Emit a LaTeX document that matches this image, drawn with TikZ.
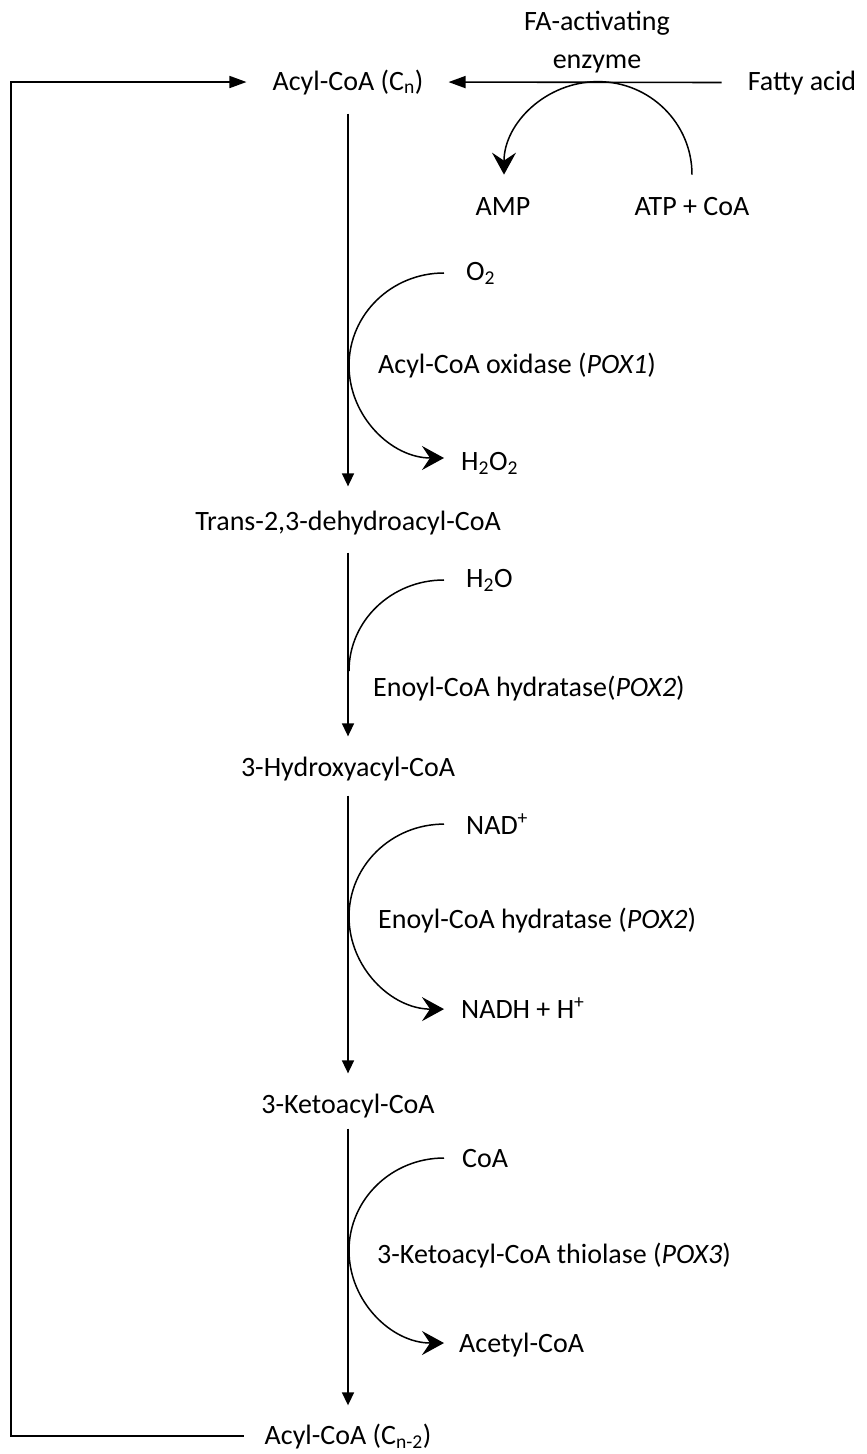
\documentclass[tikz,border=0pt]{standalone}
\usepackage{fontspec}
\setmainfont{Carlito}
\usetikzlibrary{arrows.meta,calc}
\begin{document}
\begin{tikzpicture}[x=1pt,y=1pt,
  lbl/.style={inner sep=0pt, font=\fontsize{28}{34}\selectfont},
  mainline/.style={line width=1.6pt},
  flow/.style={mainline,-{Triangle[length=13pt,width=12pt]}},
  longflow/.style={mainline,-{Triangle[length=17pt,width=12pt]}},
  arcline/.style={line width=1.5pt},
  curvearrow/.style={arcline,-{Stealth[length=22pt,width=24pt,inset=8pt]}},
  ]
\useasboundingbox (0,0) rectangle (867,-1454);

% main chain
\node[lbl,anchor=base] (acyl)   at (348,-90)   {Acyl-CoA (C\textsubscript{n})};
\node[lbl,anchor=base] (trans)  at (348,-530)  {Trans-2,3-dehydroacyl-CoA};
\node[lbl,anchor=base] (hyd)    at (348,-776)  {3-Hydroxyacyl-CoA};
\node[lbl,anchor=base] (keto)   at (348,-1113) {3-Ketoacyl-CoA};
\node[lbl,anchor=base] (acyl2)  at (348,-1444) {Acyl-CoA (C\textsubscript{n-2})};

% activation
\node[lbl,anchor=base] (fa1)    at (597,-30)  {FA-activating};
\node[lbl,anchor=base] (fa2)    at (597,-68)  {enzyme};
\node[lbl,anchor=base] (fatty)  at (802,-90)  {Fatty acid};
\node[lbl,anchor=base] (amp)    at (503,-215) {AMP};
\node[lbl,anchor=base] (atp)    at (692,-215) {ATP + CoA};

% side reactants / products and enzymes
\node[lbl,anchor=base west] (o2)     at (466,-280)  {O\textsubscript{2}};
\node[lbl,anchor=base west] (ox)     at (378,-373)  {Acyl-CoA oxidase (\textit{POX1})};
\node[lbl,anchor=base west] (h2o2)   at (461,-470)  {H\textsubscript{2}O\textsubscript{2}};
\node[lbl,anchor=base west] (h2o)    at (466,-587)  {H\textsubscript{2}O};
\node[lbl,anchor=base west] (ech1)   at (373,-696)  {Enoyl-CoA hydratase(\textit{POX2})};
\node[lbl,anchor=base west] (nad)    at (466,-834)  {NAD\textsuperscript{+}};
\node[lbl,anchor=base west] (ech2)   at (378,-928)  {Enoyl-CoA hydratase (\textit{POX2})};
\node[lbl,anchor=base west] (nadh)   at (461,-1018) {NADH + H\textsuperscript{+}};
\node[lbl,anchor=base west] (coa)    at (462,-1167) {CoA};
\node[lbl,anchor=base west] (thio)   at (377,-1263) {3-Ketoacyl-CoA thiolase (\textit{POX3})};
\node[lbl,anchor=base west] (acetyl) at (459,-1352) {Acetyl-CoA};

% main vertical arrows
\draw[flow,shorten <=19pt,shorten >=24pt] (acyl.south) -- (trans.north);
\draw[flow,shorten <=18pt,shorten >=20pt] (trans.south) -- (hyd.north);
\draw[flow,shorten <=15pt,shorten >=20pt] (hyd.south) -- (keto.north);
\draw[flow,shorten <=11pt,shorten >=18pt] (keto.south) -- (acyl2.north);

% recycling loop
\coordinate (loop) at (11,-800);
\draw[longflow,shorten <=21pt,shorten >=26pt] (acyl2.west) -| (loop) |- (acyl.west);

% fatty acid activation
\draw[longflow,shorten <=26pt,shorten >=25pt] (fatty.west) -- (acyl.east);
\draw[curvearrow] ([yshift=22pt]atp.north) arc[start angle=0,end angle=180,x radius=94,y radius=93];

% side arcs
\draw[curvearrow] ([xshift=-22pt]o2.west) arc[start angle=90,end angle=270,x radius=95,y radius=92.5];
\draw[arcline] ([xshift=-22pt]h2o.west) arc[start angle=90,end angle=180,x radius=95,y radius=91];
\draw[curvearrow] ([xshift=-22pt]nad.west) arc[start angle=90,end angle=270,x radius=95,y radius=92.5];
\draw[curvearrow] ([xshift=-18pt]coa.west) arc[start angle=90,end angle=270,x radius=95,y radius=92.5];
\end{tikzpicture}
\end{document}
